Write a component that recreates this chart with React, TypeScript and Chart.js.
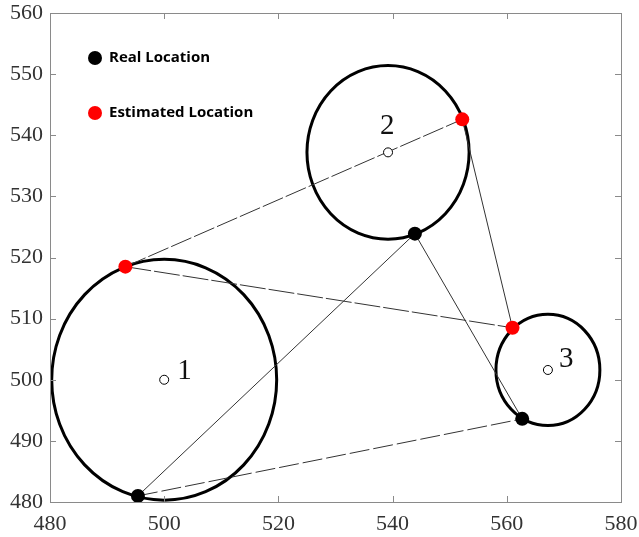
import React, { useEffect, useRef } from "react";
import { Chart, registerables } from "chart.js";

Chart.register(...registerables);

// Axis tick values
const xTicks = [480, 500, 520, 540, 560, 580];
const yTicks = [480, 490, 500, 510, 520, 530, 540, 550, 560];

// Real locations
const realX = [495.4, 543.9, 562.7];
const realY = [481.0, 523.9, 493.6];

// Estimated locations
const estX = [493.2, 552.2, 561.0];
const estY = [518.5, 542.6, 508.5];

// Anchor circles (centres and radii, data units)
const circleLabels = ["1", "2", "3"];
const circleX = [500.0, 539.2, 567.2];
const circleY = [500.0, 537.2, 501.6];
const radii = [19.7, 14.2, 9.1];

// Connecting segments: [kind, index] pairs
const segFrom = [["est", 0], ["est", 0], ["est", 1], ["real", 0], ["real", 1], ["real", 0]];
const segTo = [["est", 1], ["est", 2], ["est", 2], ["real", 1], ["real", 2], ["real", 2]];
const segDash = [[22, 3], [26, 3], [], [], [], [20, 4]];

// Legend
const legendNames = ["Real Location", "Estimated Location"];
const legendColors = ["#000000", "#ff0000"];

function pt(ref: any[]) {
  const [kind, i] = ref;
  return kind === "est" ? { x: estX[i], y: estY[i] } : { x: realX[i], y: realY[i] };
}

const framePlugin = {
  id: "frameAndCircles",
  beforeDatasetsDraw(chart: any) {
    const { ctx, scales } = chart;
    const xs = scales.x;
    const ys = scales.y;
    ctx.save();
    ctx.strokeStyle = "#000";
    ctx.lineWidth = 3;
    for (let i = 0; i < circleX.length; i++) {
      const cx = xs.getPixelForValue(circleX[i]);
      const cy = ys.getPixelForValue(circleY[i]);
      const rx = Math.abs(xs.getPixelForValue(circleX[i] + radii[i]) - cx);
      const ry = Math.abs(ys.getPixelForValue(circleY[i] + radii[i]) - cy);
      ctx.beginPath();
      ctx.ellipse(cx, cy, rx, ry, 0, 0, Math.PI * 2);
      ctx.stroke();
    }
    ctx.restore();
  },
  afterDraw(chart: any) {
    const { ctx, chartArea, scales } = chart;
    const { left, right, top, bottom } = chartArea;
    ctx.save();
    ctx.strokeStyle = "#8a8a8a";
    ctx.lineWidth = 1;
    ctx.strokeRect(left + 0.5, top + 0.5, right - left, bottom - top);
    const tl = 6;
    ctx.beginPath();
    xTicks.forEach((v) => {
      const px = Math.round(scales.x.getPixelForValue(v)) + 0.5;
      ctx.moveTo(px, bottom);
      ctx.lineTo(px, bottom - tl);
      ctx.moveTo(px, top);
      ctx.lineTo(px, top + tl);
    });
    yTicks.forEach((v) => {
      const py = Math.round(scales.y.getPixelForValue(v)) + 0.5;
      ctx.moveTo(left, py);
      ctx.lineTo(left + tl, py);
      ctx.moveTo(right, py);
      ctx.lineTo(right - tl, py);
    });
    ctx.stroke();

    // circle number labels
    ctx.fillStyle = "#111";
    ctx.font = "29px 'Liberation Serif'";
    ctx.textBaseline = "middle";
    ctx.textAlign = "left";
    const offs = [[13, -8], [-8, -26], [11, -11]];
    for (let i = 0; i < circleLabels.length; i++) {
      const cx = scales.x.getPixelForValue(circleX[i]);
      const cy = scales.y.getPixelForValue(circleY[i]);
      ctx.fillText(circleLabels[i], cx + offs[i][0], cy + offs[i][1]);
    }

    // legend
    ctx.font = "bold 15px 'Open Sans'";
    for (let i = 0; i < legendNames.length; i++) {
      const ly = top + 45 + i * 55;
      const lx = left + 45;
      ctx.fillStyle = legendColors[i];
      ctx.beginPath();
      ctx.arc(lx, ly, 7, 0, Math.PI * 2);
      ctx.fill();
      ctx.fillStyle = "#000";
      ctx.fillText(legendNames[i], lx + 14, ly);
    }
    ctx.restore();
  },
};

export default function App() {
  const ref = useRef<HTMLCanvasElement | null>(null);
  useEffect(() => {
    document.body.style.margin = "0";
    const lineSets = segFrom.map((f, i) => ({
      type: "line" as const,
      data: [pt(f), pt(segTo[i])],
      showLine: true,
      borderColor: "#333",
      borderWidth: 1,
      borderDash: segDash[i],
      pointRadius: 0,
      order: 5,
    }));
    const chart = new Chart(ref.current as HTMLCanvasElement, {
      type: "scatter",
      data: {
        datasets: [
          ...lineSets,
          {
            data: circleX.map((x, i) => ({ x, y: circleY[i] })),
            pointRadius: 4.5,
            pointBackgroundColor: "#fff",
            pointBorderColor: "#000",
            pointBorderWidth: 1,
            order: 3,
          },
          {
            data: realX.map((x, i) => ({ x, y: realY[i] })),
            pointRadius: 7,
            pointBackgroundColor: "#000",
            pointBorderColor: "#000",
            pointBorderWidth: 0,
            order: 2,
          },
          {
            data: estX.map((x, i) => ({ x, y: estY[i] })),
            pointRadius: 7,
            pointBackgroundColor: "#ff0000",
            pointBorderColor: "#ff0000",
            pointBorderWidth: 0,
            order: 1,
          },
        ],
      },
      options: {
        animation: false,
        responsive: false,
        maintainAspectRatio: false,
        layout: { padding: { top: 13, right: 18, left: 0, bottom: 0 } },
        plugins: { legend: { display: false }, tooltip: { enabled: false } },
        scales: {
          x: {
            type: "linear",
            min: 480,
            max: 580,
            afterBuildTicks: (s: any) => {
              s.ticks = xTicks.map((v) => ({ value: v }));
            },
            ticks: {
              font: { family: "'Liberation Serif'", size: 22 },
              color: "#333",
              padding: 9,
              maxRotation: 0,
            },
            grid: { display: false, drawTicks: false },
            border: { display: false },
            afterFit: (s: any) => {
              s.height = 35;
              s.paddingLeft = 0;
              s.paddingRight = 0;
            },
          },
          y: {
            type: "linear",
            min: 480,
            max: 560,
            afterBuildTicks: (s: any) => {
              s.ticks = yTicks.map((v) => ({ value: v }));
            },
            ticks: {
              font: { family: "'Liberation Serif'", size: 22 },
              color: "#333",
              padding: 7,
            },
            grid: { display: false, drawTicks: false },
            border: { display: false },
            afterFit: (s: any) => {
              s.width = 50;
              s.paddingTop = 0;
              s.paddingBottom = 0;
            },
          },
        },
      },
      plugins: [framePlugin],
    } as any);
    return () => chart.destroy();
  }, []);
  return <canvas ref={ref} width={639} height={537} style={{ display: "block" }} />;
}
